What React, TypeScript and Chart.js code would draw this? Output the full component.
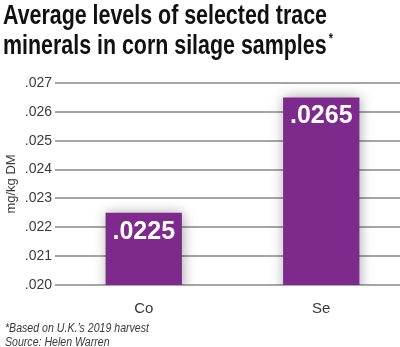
import React, { useEffect, useLayoutEffect, useRef } from "react";
import { Chart, registerables } from "chart.js";

Chart.register(...registerables);

const categories = ["Co", "Se"];
const values = [0.0225, 0.0265];
const yMin = 0.02;
const yMax = 0.027;
const yStep = 0.001;
const titleLines = ["Average levels of selected trace", "minerals in corn silage samples"];
const yAxisTitle = "mg/kg DM";
const footnotes = ["*Based on U.K.\u2019s 2019 harvest", "Source: Helen Warren"];

const BAR_COLOR = "#7e2a8d";
const GRID_COLOR = "#a6a6a6";
const TEXT_COLOR = "#3a3a3a";

const fmt = (v: number, digits: number) => v.toFixed(digits).replace(/^0/, "");

const shadowPlugin = {
  id: "barShadow",
  beforeDatasetsDraw(chart: any) {
    const ctx = chart.ctx;
    ctx.save();
    ctx.shadowColor = "rgba(0,0,0,0.35)";
    ctx.shadowBlur = 12;
    ctx.shadowOffsetX = 1;
    ctx.shadowOffsetY = 0;
  },
  afterDatasetsDraw(chart: any) {
    chart.ctx.restore();
  },
};

const labelPlugin = {
  id: "barLabels",
  afterDatasetsDraw(chart: any) {
    const ctx = chart.ctx;
    const meta = chart.getDatasetMeta(0);
    const data = chart.data.datasets[0].data as number[];
    ctx.save();
    ctx.fillStyle = "#ffffff";
    ctx.font = "bold 25px 'Liberation Sans', Arial, sans-serif";
    ctx.textAlign = "center";
    ctx.textBaseline = "middle";
    meta.data.forEach((bar: any, i: number) => {
      ctx.fillText(fmt(data[i], 4), bar.x, bar.y + 19);
    });
    ctx.restore();
  },
};

function FitBlock(props: { targetWidth: number; style: any; children: any }) {
  const ref = useRef<HTMLDivElement | null>(null);
  useLayoutEffect(() => {
    const el = ref.current;
    if (!el) return;
    el.style.transform = "none";
    const w = el.getBoundingClientRect().width;
    if (w > 0) el.style.transform = `scaleX(${props.targetWidth / w})`;
  }, [props.targetWidth]);
  return (
    <div
      ref={ref}
      style={{ ...props.style, display: "inline-block", transformOrigin: "0 0", whiteSpace: "nowrap" }}
    >
      {props.children}
    </div>
  );
}

export default function App() {
  const ref = useRef<HTMLCanvasElement | null>(null);

  useEffect(() => {
    if (!ref.current) return;
    const chart = new Chart(ref.current, {
      type: "bar",
      data: {
        labels: categories,
        datasets: [
          {
            data: values,
            backgroundColor: BAR_COLOR,
            borderWidth: 0,
            categoryPercentage: 1,
            barPercentage: 0.43,
          },
        ],
      },
      options: {
        responsive: false,
        animation: false,
        devicePixelRatio: 1,
        layout: { padding: { top: 83, bottom: 32, left: 0, right: 0 } },
        plugins: {
          legend: { display: false },
          tooltip: { enabled: false },
          title: { display: false },
        },
        scales: {
          x: {
            grid: { display: false },
            border: { display: false },
            ticks: {
              padding: 7,
              color: TEXT_COLOR,
              font: { family: "'Liberation Sans', Arial, sans-serif", size: 15 },
            },
            afterFit: (s: any) => {
              s.height = 30;
            },
          },
          y: {
            min: yMin,
            max: yMax,
            ticks: {
              stepSize: yStep,
              padding: 3,
              color: TEXT_COLOR,
              font: { family: "'Liberation Sans', Arial, sans-serif", size: 14 },
              callback: (v: any) => fmt(Number(v), 3),
            },
            grid: { color: GRID_COLOR, lineWidth: 2, drawTicks: false },
            border: { display: false },
            title: {
              display: true,
              text: yAxisTitle,
              color: TEXT_COLOR,
              font: { family: "'Liberation Sans', Arial, sans-serif", size: 13 },
              padding: { top: 4, bottom: 0 },
            },
            afterFit: (s: any) => {
              s.width = 55;
            },
          },
        },
      } as any,
      plugins: [shadowPlugin, labelPlugin],
    });
    return () => chart.destroy();
  }, []);

  return (
    <div
      style={{
        position: "fixed",
        left: 0,
        top: 0,
        width: 400,
        height: 347,
        overflow: "hidden",
        background: "#ffffff",
      }}
    >
      <canvas
        ref={ref}
        width={410}
        height={347}
        style={{ position: "absolute", left: 0, top: 0, width: 410, height: 347 }}
      />
      <div style={{ position: "absolute", left: 3, top: 0 }}>
        <FitBlock
          targetWidth={330}
          style={{
            fontFamily: "'Liberation Sans', Arial, sans-serif",
            fontWeight: "bold",
            fontSize: 28,
            lineHeight: "30px",
            color: "#111",
          }}
        >
          <div>{titleLines[0]}</div>
          <div>
            {titleLines[1]}
            <span style={{ fontSize: 14, position: "relative", top: -11, marginLeft: 3 }}>*</span>
          </div>
        </FitBlock>
      </div>
      <div style={{ position: "absolute", left: 5, top: 321 }}>
        <FitBlock
          targetWidth={144}
          style={{
            fontFamily: "'Liberation Sans', Arial, sans-serif",
            fontStyle: "italic",
            fontSize: 12,
            lineHeight: "14px",
            color: TEXT_COLOR,
          }}
        >
          <div>{footnotes[0]}</div>
          <div>{footnotes[1]}</div>
        </FitBlock>
      </div>
    </div>
  );
}
